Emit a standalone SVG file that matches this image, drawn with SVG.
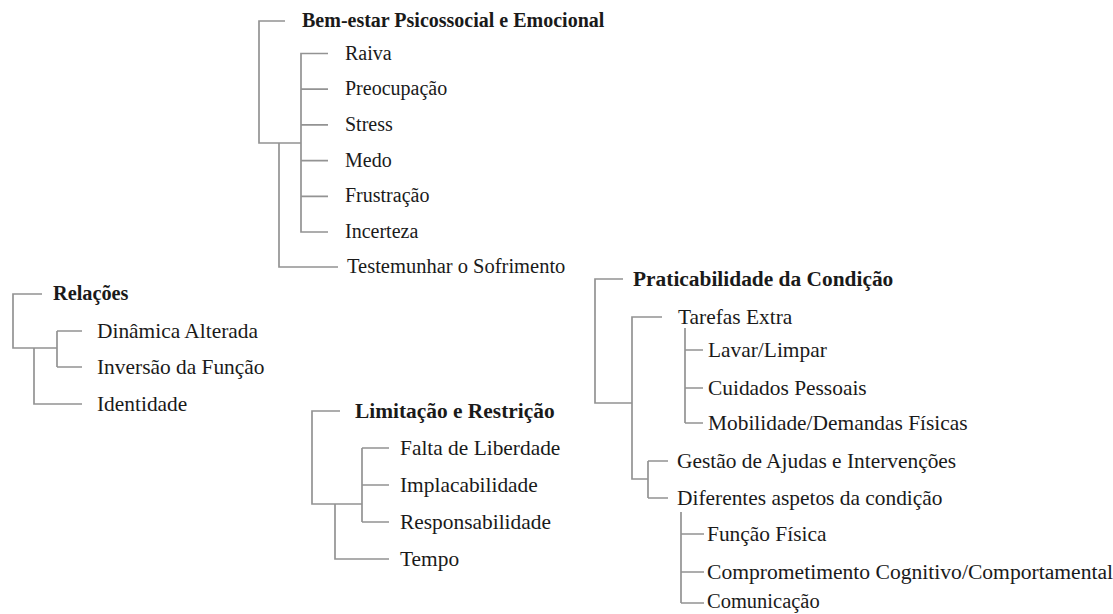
<svg xmlns="http://www.w3.org/2000/svg" width="1113" height="614" viewBox="0 0 1113 614">
<style>
text{font-family:"Liberation Serif","Times New Roman",serif;font-size:21.4px;fill:#1a1a1a}
.b{font-weight:bold}
.s{font-size:20px}
.c path{fill:none;stroke:#939393;stroke-width:1.7}
</style>
<rect width="1113" height="614" fill="#fff"/>
<g class="c" id="connectors">
<path d="M285,21H259V143H301M279,143V267H338"/>
<path d="M328,53.5H301V232H328M301,89.2H328M301,124.9H328M301,160.6H328M301,196.3H328"/>
<path d="M42,294H13V348H57M57,331V367M57,331H82M57,367H82M34,348V404H82"/>
<path d="M340,411H312V504H362M362,448V522M362,448H389M362,485H389M362,522H389M335,504V559H389"/>
<path d="M623,279H595V403H632M662,317H632V479H648M648,461V498M648,461H668M648,498H668"/>
<path d="M685,328V423M685,350H703M685,388H703M685,423H703"/>
<path d="M681,512V603M681,534H704M681,572H704M681,603H704"/>
</g>
<g id="bem-estar"><text class="b s" x="302" y="27">Bem-estar Psicossocial e Emocional</text></g>
<g id="raiva"><text class="s" x="345" y="59.5">Raiva</text></g>
<g id="preocupacao"><text class="s" x="345" y="95.2">Preocupação</text></g>
<g id="stress"><text class="s" x="345" y="130.9">Stress</text></g>
<g id="medo"><text class="s" x="345" y="166.6">Medo</text></g>
<g id="frustracao"><text class="s" x="345" y="202.3">Frustração</text></g>
<g id="incerteza"><text class="s" x="345" y="238">Incerteza</text></g>
<g id="testemunhar"><text style="font-size:20.5px" x="347" y="273">Testemunhar o Sofrimento</text></g>
<g id="relacoes"><text class="b" style="font-size:20.3px" x="53" y="300">Relações</text></g>
<g id="dinamica"><text x="97" y="337.5">Dinâmica Alterada</text></g>
<g id="inversao"><text x="97" y="373.5">Inversão da Função</text></g>
<g id="identidade"><text x="97" y="410.5">Identidade</text></g>
<g id="limitacao"><text class="b" x="355" y="417.5">Limitação e Restrição</text></g>
<g id="falta"><text x="400" y="454.5">Falta de Liberdade</text></g>
<g id="implacabilidade"><text x="400" y="491.5">Implacabilidade</text></g>
<g id="responsabilidade"><text x="400" y="528.5">Responsabilidade</text></g>
<g id="tempo"><text x="400" y="565.5">Tempo</text></g>
<g id="praticabilidade"><text class="b" x="633" y="285.5">Praticabilidade da Condição</text></g>
<g id="tarefas"><text x="678" y="323.5">Tarefas Extra</text></g>
<g id="lavar"><text x="708" y="356.5">Lavar/Limpar</text></g>
<g id="cuidados"><text x="708" y="394.5">Cuidados Pessoais</text></g>
<g id="mobilidade"><text x="708" y="429.5">Mobilidade/Demandas Físicas</text></g>
<g id="gestao"><text x="677" y="467.5">Gestão de Ajudas e Intervenções</text></g>
<g id="diferentes"><text x="677" y="504.5">Diferentes aspetos da condição</text></g>
<g id="funcao"><text x="707" y="540.5">Função Física</text></g>
<g id="comprometimento"><text style="font-size:21.6px" x="707" y="578.5">Comprometimento Cognitivo/Comportamental</text></g>
<g id="comunicacao"><text style="font-size:20.5px" x="707" y="607.5">Comunicação</text></g>
</svg>
